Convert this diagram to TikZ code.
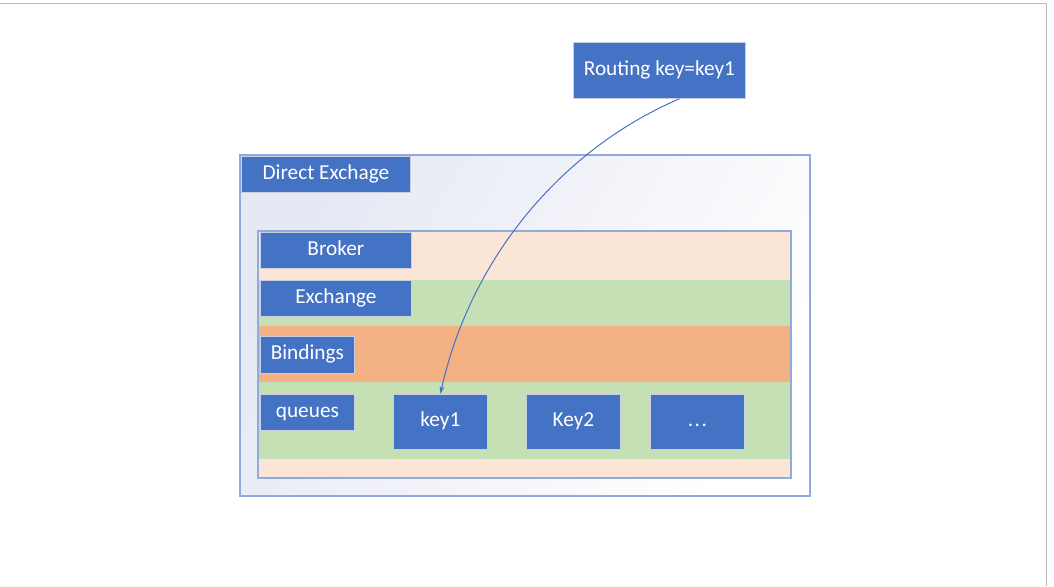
\documentclass[tikz,border=0pt]{standalone}
\usepackage{fontspec}
\setmainfont{Carlito}
\usetikzlibrary{arrows.meta,calc}
\definecolor{msblue}{HTML}{4472C4}
\definecolor{frameblue}{HTML}{8FAADC}
\definecolor{peach}{HTML}{FBE5D6}
\definecolor{lgreen}{HTML}{C5E0B4}
\definecolor{orng}{HTML}{F4B183}
\definecolor{lav}{HTML}{E6E8F4}
\definecolor{lblborder}{HTML}{C9CFDC}
\tikzset{
  lbl/.style={draw=lblborder, line width=0.8pt, fill=msblue, text=white, inner sep=0pt,
    anchor=north west, font=\fontsize{21.3}{25}\selectfont,
    text height=14pt, text depth=4pt},
  conn/.style={draw=msblue, line width=1pt, -{Stealth[length=8pt,width=5pt]}}
}
\begin{document}
\begin{tikzpicture}[x=1pt,y=-1pt]
\useasboundingbox (0,0) rectangle (1054,586);
% screenshot frame
\draw[gray!55, line width=1pt] (0,3.5) -- (1046.5,3.5) -- (1046.5,586);
% outer container
\shade[left color=lav, right color=white, shading angle=60] (240,155) rectangle (810,496);
\draw[frameblue, line width=1.5pt] (240,155) rectangle (810,496);
\node[lbl, minimum width=169, minimum height=36] (direct) at (241,156) {Direct Exchage};
% inner bands
\fill[peach] (258,231) rectangle (791,280);
\fill[lgreen] (258,280) rectangle (791,326);
\fill[orng] (258,326) rectangle (791,382);
\fill[lgreen] (258,382) rectangle (791,459);
\fill[peach] (258,459) rectangle (791,478);
\draw[frameblue, line width=1.5pt] (258,231) rectangle (791,478);
% labels
\node[lbl, minimum width=151, minimum height=36] (broker) at (260,232) {Broker};
\node[lbl, minimum width=151, minimum height=36] (exchange) at (260,280) {Exchange};
\node[lbl, minimum width=94, minimum height=37] (bindings) at (260,336) {Bindings};
\node[lbl, minimum width=94, minimum height=36] (queues) at (260,394) {queues};
\node[lbl, minimum width=94, minimum height=55] (key1) at (393,394) {key1};
\node[lbl, minimum width=94, minimum height=55] (key2) at (526,394) {Key2};
\node[lbl, minimum width=94, minimum height=55] (dots) at (650,394) {.\kern1.5pt.\kern1.5pt.};
\node[lbl, minimum width=172, minimum height=56] (route) at (573,42) {Routing key=key1};
% connector
\draw[conn] ($(route.south)+(20,0)$) .. controls (560,150) and (470,260) .. (key1.north);
\end{tikzpicture}
\end{document}
